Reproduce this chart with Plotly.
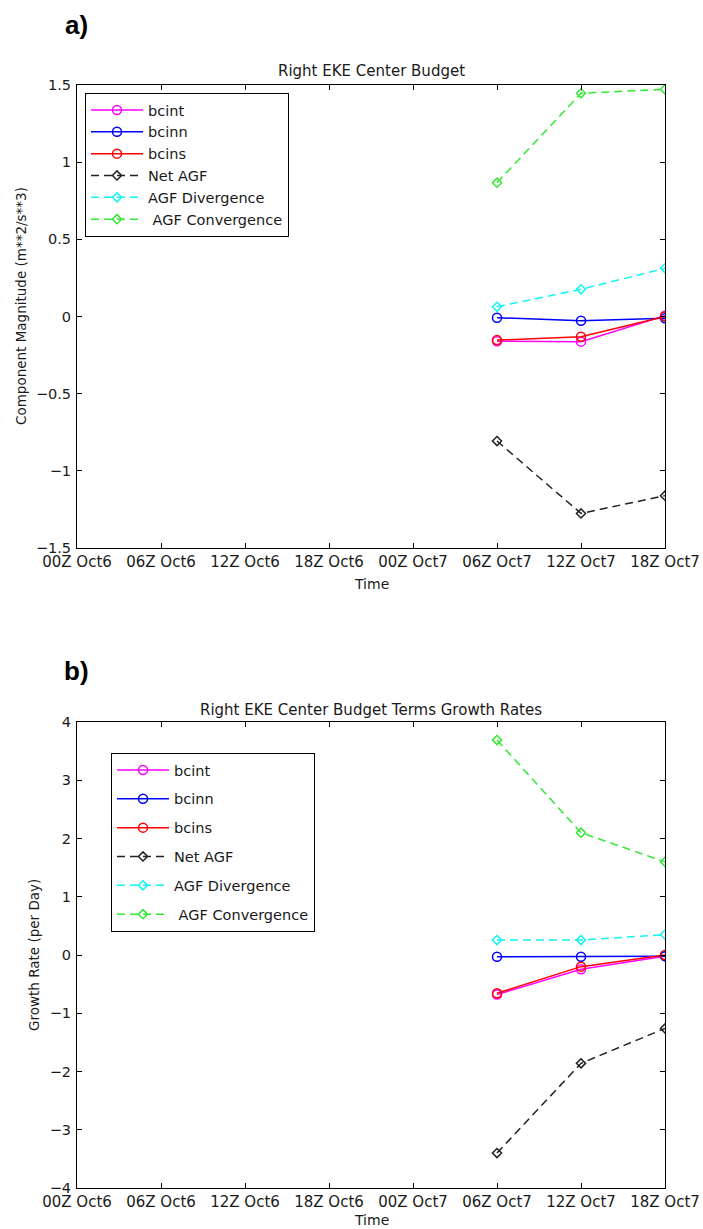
import plotly.graph_objects as go

# Time axis (6-hourly)
times = ["00Z Oct6", "06Z Oct6", "12Z Oct6", "18Z Oct6",
         "00Z Oct7", "06Z Oct7", "12Z Oct7", "18Z Oct7"]
obs_times = ["06Z Oct7", "12Z Oct7", "18Z Oct7"]

# a) Right EKE center budget components (m**2/s**3)
a_bcint = [-0.160, -0.163, 0.005]
a_bcinn = [-0.008, -0.027, -0.012]
a_bcins = [-0.153, -0.131, 0.000]
a_net_agf = [-0.807, -1.276, -1.161]
a_agf_div = [0.063, 0.176, 0.312]
a_agf_conv = [0.867, 1.446, 1.472]

# b) Growth rates of the budget terms (per day)
b_bcint = [-0.68, -0.245, -0.02]
b_bcinn = [-0.03, -0.03, -0.02]
b_bcins = [-0.657, -0.20, 0.00]
b_net_agf = [-3.40, -1.86, -1.26]
b_agf_div = [0.257, 0.257, 0.35]
b_agf_conv = [3.69, 2.10, 1.60]

y_ticks_a = [-1.5, -1, -0.5, 0, 0.5, 1, 1.5]
y_ticks_b = [-4, -3, -2, -1, 0, 1, 2, 3, 4]

W, H = 703, 1229
FONT = "DejaVu Sans, Verdana, sans-serif"
BOLD_FONT = "Liberation Sans, Arial, Helvetica, sans-serif"
TXT = "#1a1a1a"

series_style = [
    ("bcint", "#ff00ff", "solid", "circle-open", 9),
    ("bcinn", "#0000ff", "solid", "circle-open", 9),
    ("bcins", "#ff0000", "solid", "circle-open", 9),
    ("Net AGF", "#222222", "8px,5px", "diamond-open", 7),
    ("AGF Divergence", "#11f4f4", "8px,5px", "diamond-open", 7),
    ("\u00a0AGF Convergence", "#33e833", "8px,5px", "diamond-open", 7),
]

fig = go.Figure()

panels = [
    ("x", "y", "legend", [a_bcint, a_bcinn, a_bcins, a_net_agf, a_agf_div, a_agf_conv]),
    ("x2", "y2", "legend2", [b_bcint, b_bcinn, b_bcins, b_net_agf, b_agf_div, b_agf_conv]),
]
for xa, ya, leg, values in panels:
    for (name, color, dash, symbol, msize), vals in zip(series_style, values):
        fig.add_trace(go.Scatter(
            x=obs_times, y=vals, name=name, xaxis=xa, yaxis=ya,
            legend=leg, legendgroup=leg + name,
            mode="lines+markers",
            line=dict(color=color, width=1.5, dash=dash),
            marker=dict(symbol=symbol, size=msize, color=color,
                        line=dict(width=1.5, color=color)),
        ))


def px_x(p):
    return p / W


def px_y(p):
    return 1 - p / H


axis_common = dict(
    showline=True, linecolor="black", linewidth=1, mirror="allticks",
    ticks="inside", ticklen=5, tickcolor="black", showgrid=False,
    zeroline=False, fixedrange=True, automargin=False,
)
xaxis_common = dict(
    axis_common, type="category", categoryorder="array", categoryarray=times,
    range=[0, len(times) - 1], tickangle=0, ticklabelstandoff=0,
    tickfont=dict(family=FONT, size=15, color=TXT),
)
yaxis_common = dict(
    axis_common, ticklabelstandoff=2,
    tickfont=dict(family=FONT, size=14.5, color=TXT),
)
legend_common = dict(
    xanchor="left", yanchor="top", bgcolor="white", bordercolor="black",
    borderwidth=1, font=dict(family=FONT, size=14.5, color=TXT), itemwidth=52,
)

fig.update_layout(
    width=W, height=H,
    margin=dict(l=0, r=0, t=0, b=0, autoexpand=False),
    paper_bgcolor="white", plot_bgcolor="white",
    showlegend=True,
    xaxis=dict(xaxis_common, domain=[px_x(77), px_x(665)], anchor="y"),
    yaxis=dict(yaxis_common, domain=[px_y(548), px_y(85)], anchor="x",
               range=[-1.5, 1.5], tickvals=y_ticks_a),
    xaxis2=dict(xaxis_common, domain=[px_x(77), px_x(665)], anchor="y2"),
    yaxis2=dict(yaxis_common, domain=[px_y(1188), px_y(722)], anchor="x2",
                range=[-4, 4], tickvals=y_ticks_b),
    legend=dict(legend_common, x=px_x(85), y=px_y(93),
                traceorder="normal", tracegroupgap=0),
    legend2=dict(legend_common, x=px_x(111), y=px_y(753),
                 traceorder="grouped", tracegroupgap=7),
)

texts = [
    ("a)", 76, 25, 26, True, 0),
    ("b)", 76, 671, 26, True, 0),
    ("Right EKE Center Budget", 371, 71, 15, False, 0),
    ("Right EKE Center Budget Terms Growth Rates", 371, 710, 15, False, 0),
    ("Time", 371, 584, 14, False, 0),
    ("Time", 371, 1220, 14, False, 0),
    ("Component Magnitude (m**2/s**3)", 21, 306, 13.5, False, -90),
    ("Growth Rate (per Day)", 34, 955, 13.5, False, -90),
]
for text, x, y, size, bold, angle in texts:
    fig.add_annotation(
        text=f"<b>{text}</b>" if bold else text,
        x=px_x(x), y=px_y(y), xref="paper", yref="paper",
        xanchor="center", yanchor="middle", showarrow=False,
        textangle=angle,
        font=dict(family=BOLD_FONT if bold else FONT, size=size,
                  color="black" if bold else TXT),
    )

fig.write_html("out.html")
